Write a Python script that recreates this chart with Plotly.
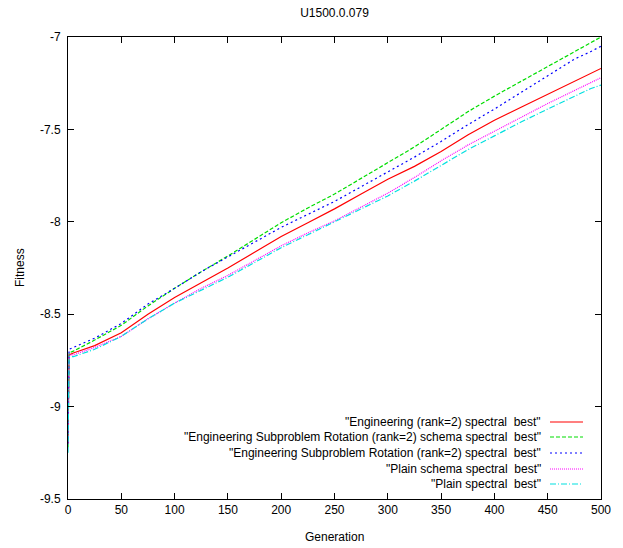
import plotly.graph_objects as go

generations = [0, 1, 5, 25, 50, 75, 100, 125, 150, 175, 200, 225, 250, 275, 300,
               325, 350, 375, 400, 425, 450, 475, 490, 500]

eng_spectral = [-9.20, -8.72, -8.71, -8.67, -8.60, -8.50, -8.41, -8.33, -8.25, -8.165,
                -8.08, -8.005, -7.93, -7.85, -7.77, -7.70, -7.62, -7.53, -7.45, -7.38,
                -7.31, -7.24, -7.20, -7.17]
esr_schema = [-9.22, -8.71, -8.70, -8.64, -8.56, -8.455, -8.36, -8.27, -8.185, -8.095,
              -8.005, -7.925, -7.85, -7.765, -7.68, -7.595, -7.50, -7.405, -7.32, -7.24,
              -7.16, -7.08, -7.03, -7.00]
esr_spectral = [-9.20, -8.69, -8.68, -8.63, -8.55, -8.445, -8.36, -8.27, -8.19, -8.11,
                -8.03, -7.96, -7.89, -7.81, -7.73, -7.65, -7.565, -7.475, -7.39, -7.30,
                -7.21, -7.12, -7.08, -7.05]
plain_schema = [-9.20, -8.72, -8.72, -8.68, -8.62, -8.525, -8.44, -8.36, -8.29, -8.21,
                -8.13, -8.06, -7.995, -7.92, -7.845, -7.76, -7.67, -7.585, -7.51, -7.435,
                -7.36, -7.29, -7.25, -7.22]
plain_spectral = [-9.25, -8.73, -8.73, -8.69, -8.62, -8.525, -8.44, -8.37, -8.30, -8.22,
                  -8.14, -8.07, -8.00, -7.93, -7.86, -7.78, -7.695, -7.61, -7.535, -7.46,
                  -7.39, -7.32, -7.28, -7.26]

series_names = ['"Engineering (rank=2) spectral  best"',
                '"Engineering Subproblem Rotation (rank=2) schema spectral  best"',
                '"Engineering Subproblem Rotation (rank=2) spectral  best"',
                '"Plain schema spectral  best"',
                '"Plain spectral  best"']
series_values = [eng_spectral, esr_schema, esr_spectral, plain_schema, plain_spectral]
colors = ["#ff0000", "#00dd00", "#0000ff", "#ff00ff", "#00e0e0"]
dashes = ["solid", "4px,2px", "2px,3px", "1px,1px", "6px,2px,1px,2px"]

x_ticks = [0, 50, 100, 150, 200, 250, 300, 350, 400, 450, 500]
y_ticks = [-9.5, -9, -8.5, -8, -7.5, -7]
y_tick_labels = ["-9.5", "-9", "-8.5", "-8", "-7.5", "-7"]

FONT = "Liberation Sans, Arial, Helvetica, sans-serif"
W, H = 623, 548
L, R, T, B = 68, 22, 37, 49

fig = go.Figure()
for name, vals, c, d in zip(series_names, series_values, colors, dashes):
    fig.add_trace(go.Scatter(x=generations, y=vals, mode="lines", name=name,
                             line=dict(color=c, width=1.2, dash=d), showlegend=False))

# manual gnuplot-style legend (text right-aligned, sample to the right)
pw = W - L - R
ph = H - T - B
def px2paper_x(px):
    return (px - L) / pw
def px2paper_y(py):
    return 1 - (py - T) / ph

rows = [422, 437, 453, 469, 484]
for name, c, d, ry in zip(series_names, colors, dashes, rows):
    fig.add_annotation(x=px2paper_x(543), y=px2paper_y(ry), xref="paper", yref="paper",
                       text=name, showarrow=False, xanchor="right", yanchor="middle",
                       font=dict(family=FONT, size=12, color="black"))
    fig.add_shape(type="line", xref="paper", yref="paper",
                  x0=px2paper_x(550), x1=px2paper_x(583),
                  y0=px2paper_y(ry), y1=px2paper_y(ry),
                  line=dict(color=c, width=1.2, dash=d))

# axis titles as annotations at gnuplot positions
fig.add_annotation(x=px2paper_x(20), y=px2paper_y(268), xref="paper", yref="paper",
                   text="Fitness", showarrow=False, textangle=-90,
                   xanchor="center", yanchor="middle",
                   font=dict(family=FONT, size=12, color="black"))
fig.add_annotation(x=px2paper_x(334), y=px2paper_y(537), xref="paper", yref="paper",
                   text="Generation", showarrow=False,
                   xanchor="center", yanchor="middle",
                   font=dict(family=FONT, size=12, color="black"))

axis_common = dict(showline=True, linecolor="black", linewidth=1, mirror="ticks",
                   ticks="inside", ticklen=6, tickcolor="black", showgrid=False,
                   zeroline=False, automargin=False,
                   tickfont=dict(family=FONT, size=12, color="black"))

fig.update_layout(
    width=W, height=H,
    margin=dict(l=L, r=R, t=T, b=B),
    paper_bgcolor="white", plot_bgcolor="white",
    title=dict(text="U1500.0.079", x=(L + pw / 2) / W, xanchor="center",
               y=1 - 13 / H, yanchor="middle", yref="container",
               font=dict(family=FONT, size=12, color="black")),
    xaxis=dict(range=[0, 500], tickvals=x_ticks, **axis_common),
    yaxis=dict(range=[-9.5, -7], tickvals=y_ticks, ticktext=y_tick_labels,
               ticklabelstandoff=4, **axis_common),
)

fig.write_html("out.html", config={"displayModeBar": False},
               post_script="document.body.style.margin='0';document.body.style.padding='0';")
